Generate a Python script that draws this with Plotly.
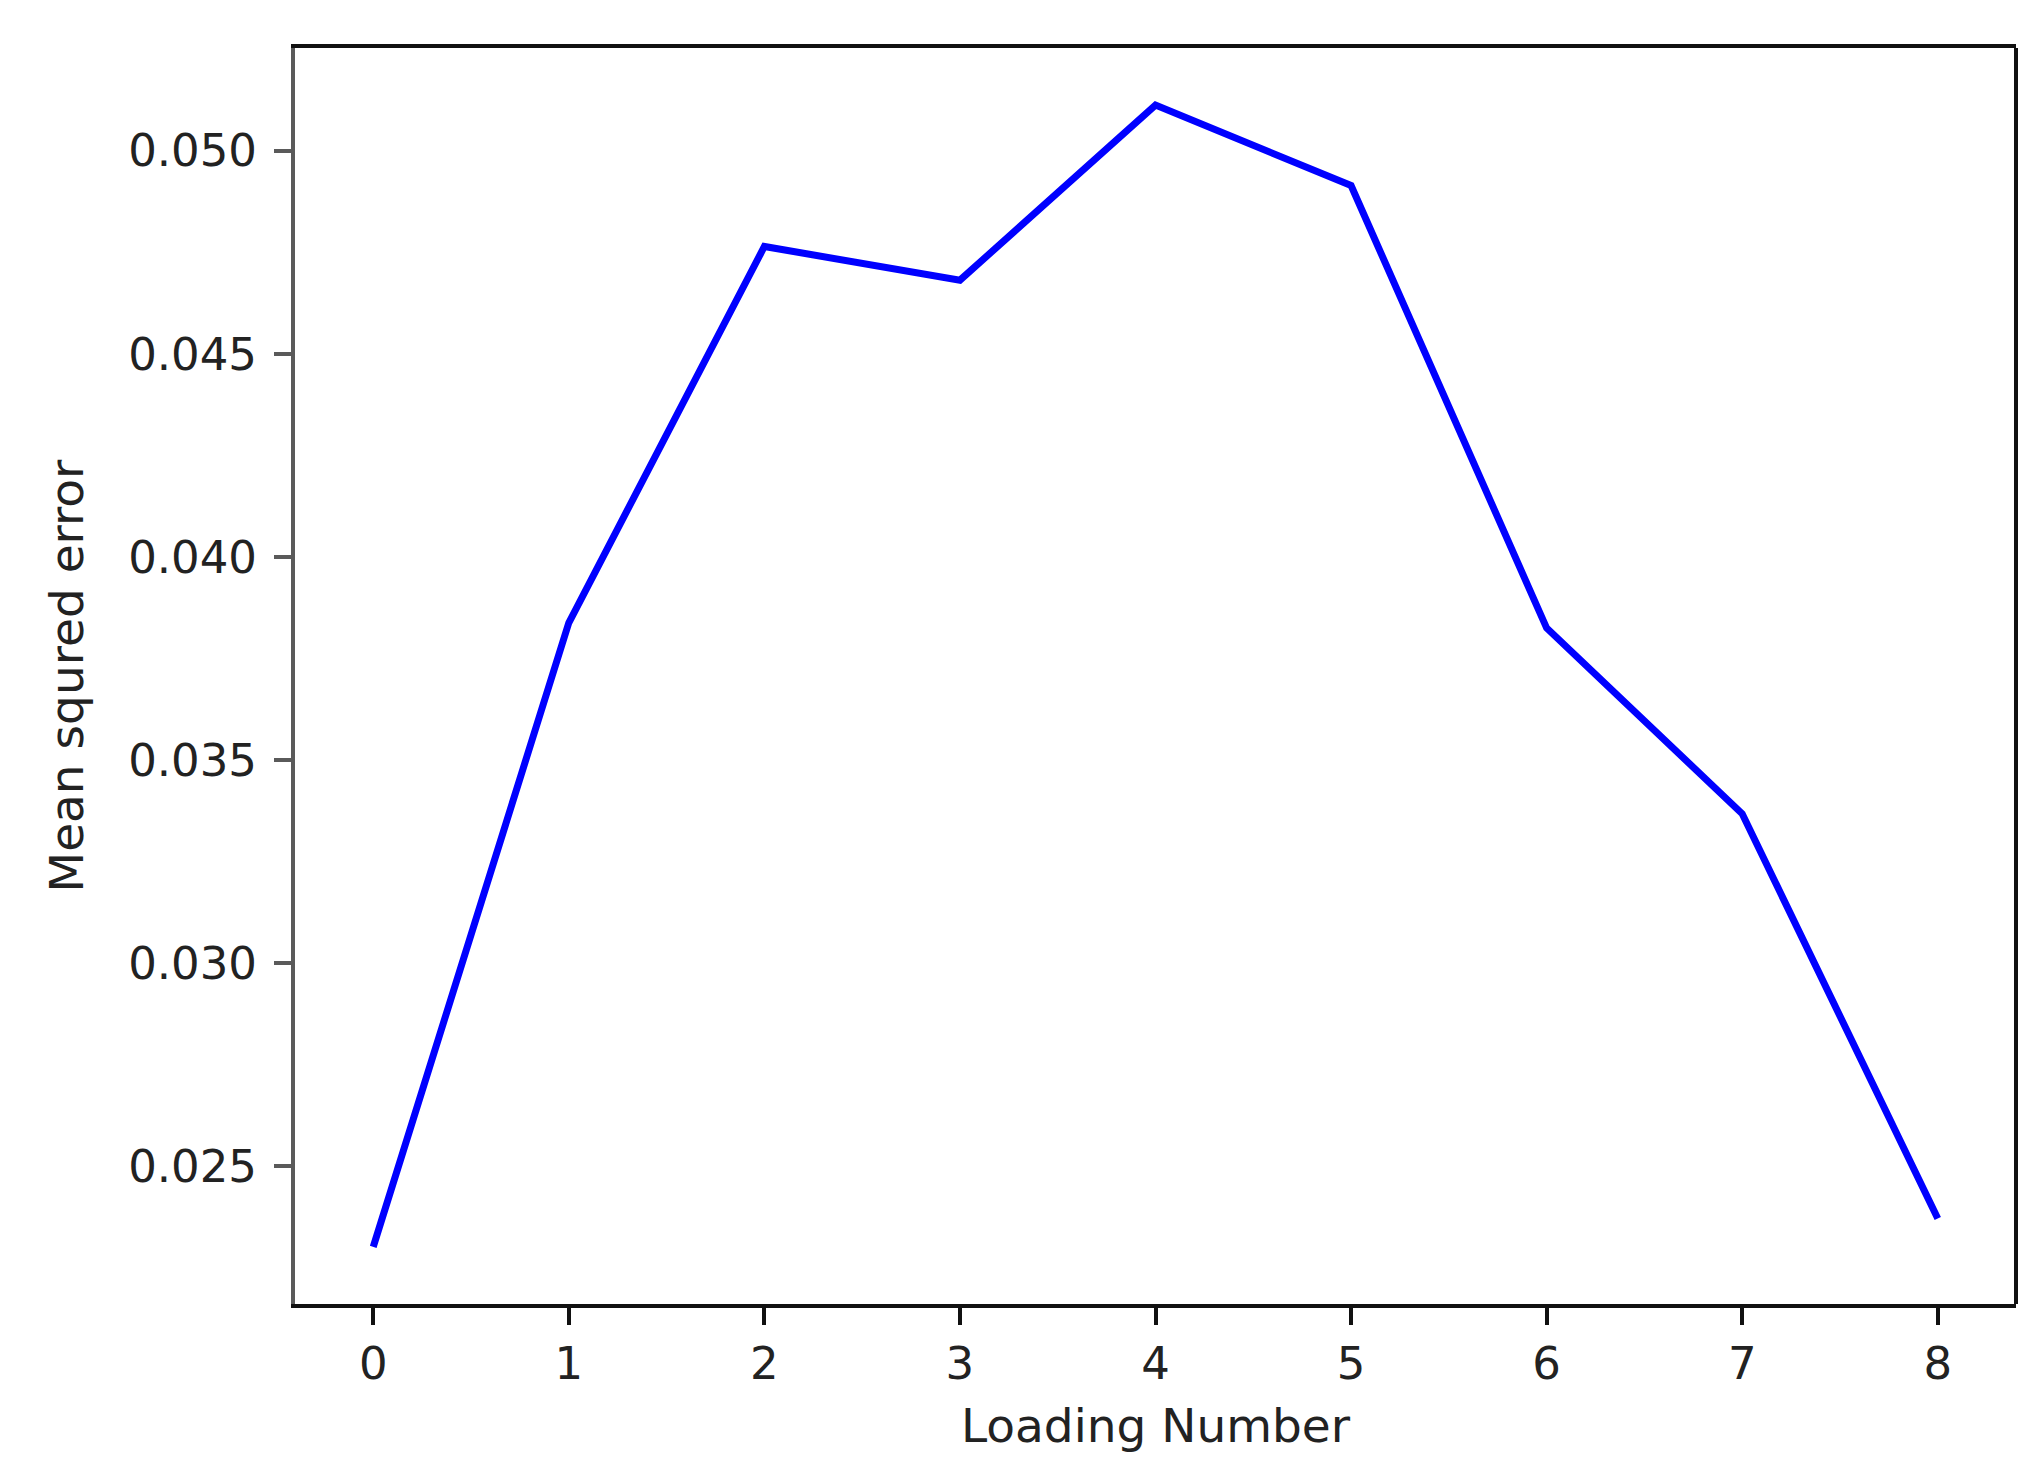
import plotly.graph_objects as go

# Loading number vs. mean squared error
loading_number = [0, 1, 2, 3, 4, 5, 6, 7, 8]
mse = [0.02302, 0.03838, 0.04764, 0.04681, 0.05112, 0.04914, 0.03825, 0.03368, 0.02372]

y_ticks = [0.025, 0.030, 0.035, 0.040, 0.045, 0.050]
y_tick_labels = ["0.025", "0.030", "0.035", "0.040", "0.045", "0.050"]

FONT = "DejaVu Sans"

fig = go.Figure(
    go.Scatter(
        x=loading_number,
        y=mse,
        mode="lines",
        line=dict(color="#0000ff", width=7),
        showlegend=False,
    )
)

fig.update_layout(
    width=2040,
    height=1481,
    margin=dict(l=287, r=32, t=40, b=185),
    plot_bgcolor="white",
    paper_bgcolor="white",
    font=dict(family=FONT, size=45, color="#222222"),
    xaxis=dict(
        range=[-0.4, 8.4],
        tickmode="array",
        tickvals=loading_number,
        ticktext=[str(v) for v in loading_number],
        ticks="outside",
        ticklen=17,
        tickwidth=4,
        tickcolor="#111111",
        showgrid=False,
        zeroline=False,
        showline=True,
        linecolor="#111111",
        linewidth=4,
        mirror=True,
        title=dict(text="Loading Number", font=dict(size=47), standoff=21),
    ),
    yaxis=dict(
        range=[0.021615, 0.052525],
        tickmode="array",
        tickvals=y_ticks,
        ticktext=y_tick_labels,
        ticks="outside",
        ticklen=17,
        tickwidth=4,
        tickcolor="#5a5a5a",
        ticklabelstandoff=8,
        showgrid=False,
        zeroline=False,
        showline=True,
        linecolor="#5a5a5a",
        linewidth=4,
        title=dict(text="Mean squred error", font=dict(size=47), standoff=31),
    ),
)

# right-hand spine of the box
fig.add_shape(
    type="line", xref="paper", yref="paper",
    x0=1, x1=1, y0=0, y1=1,
    line=dict(color="#111111", width=4),
)

fig.write_html("out.html")
